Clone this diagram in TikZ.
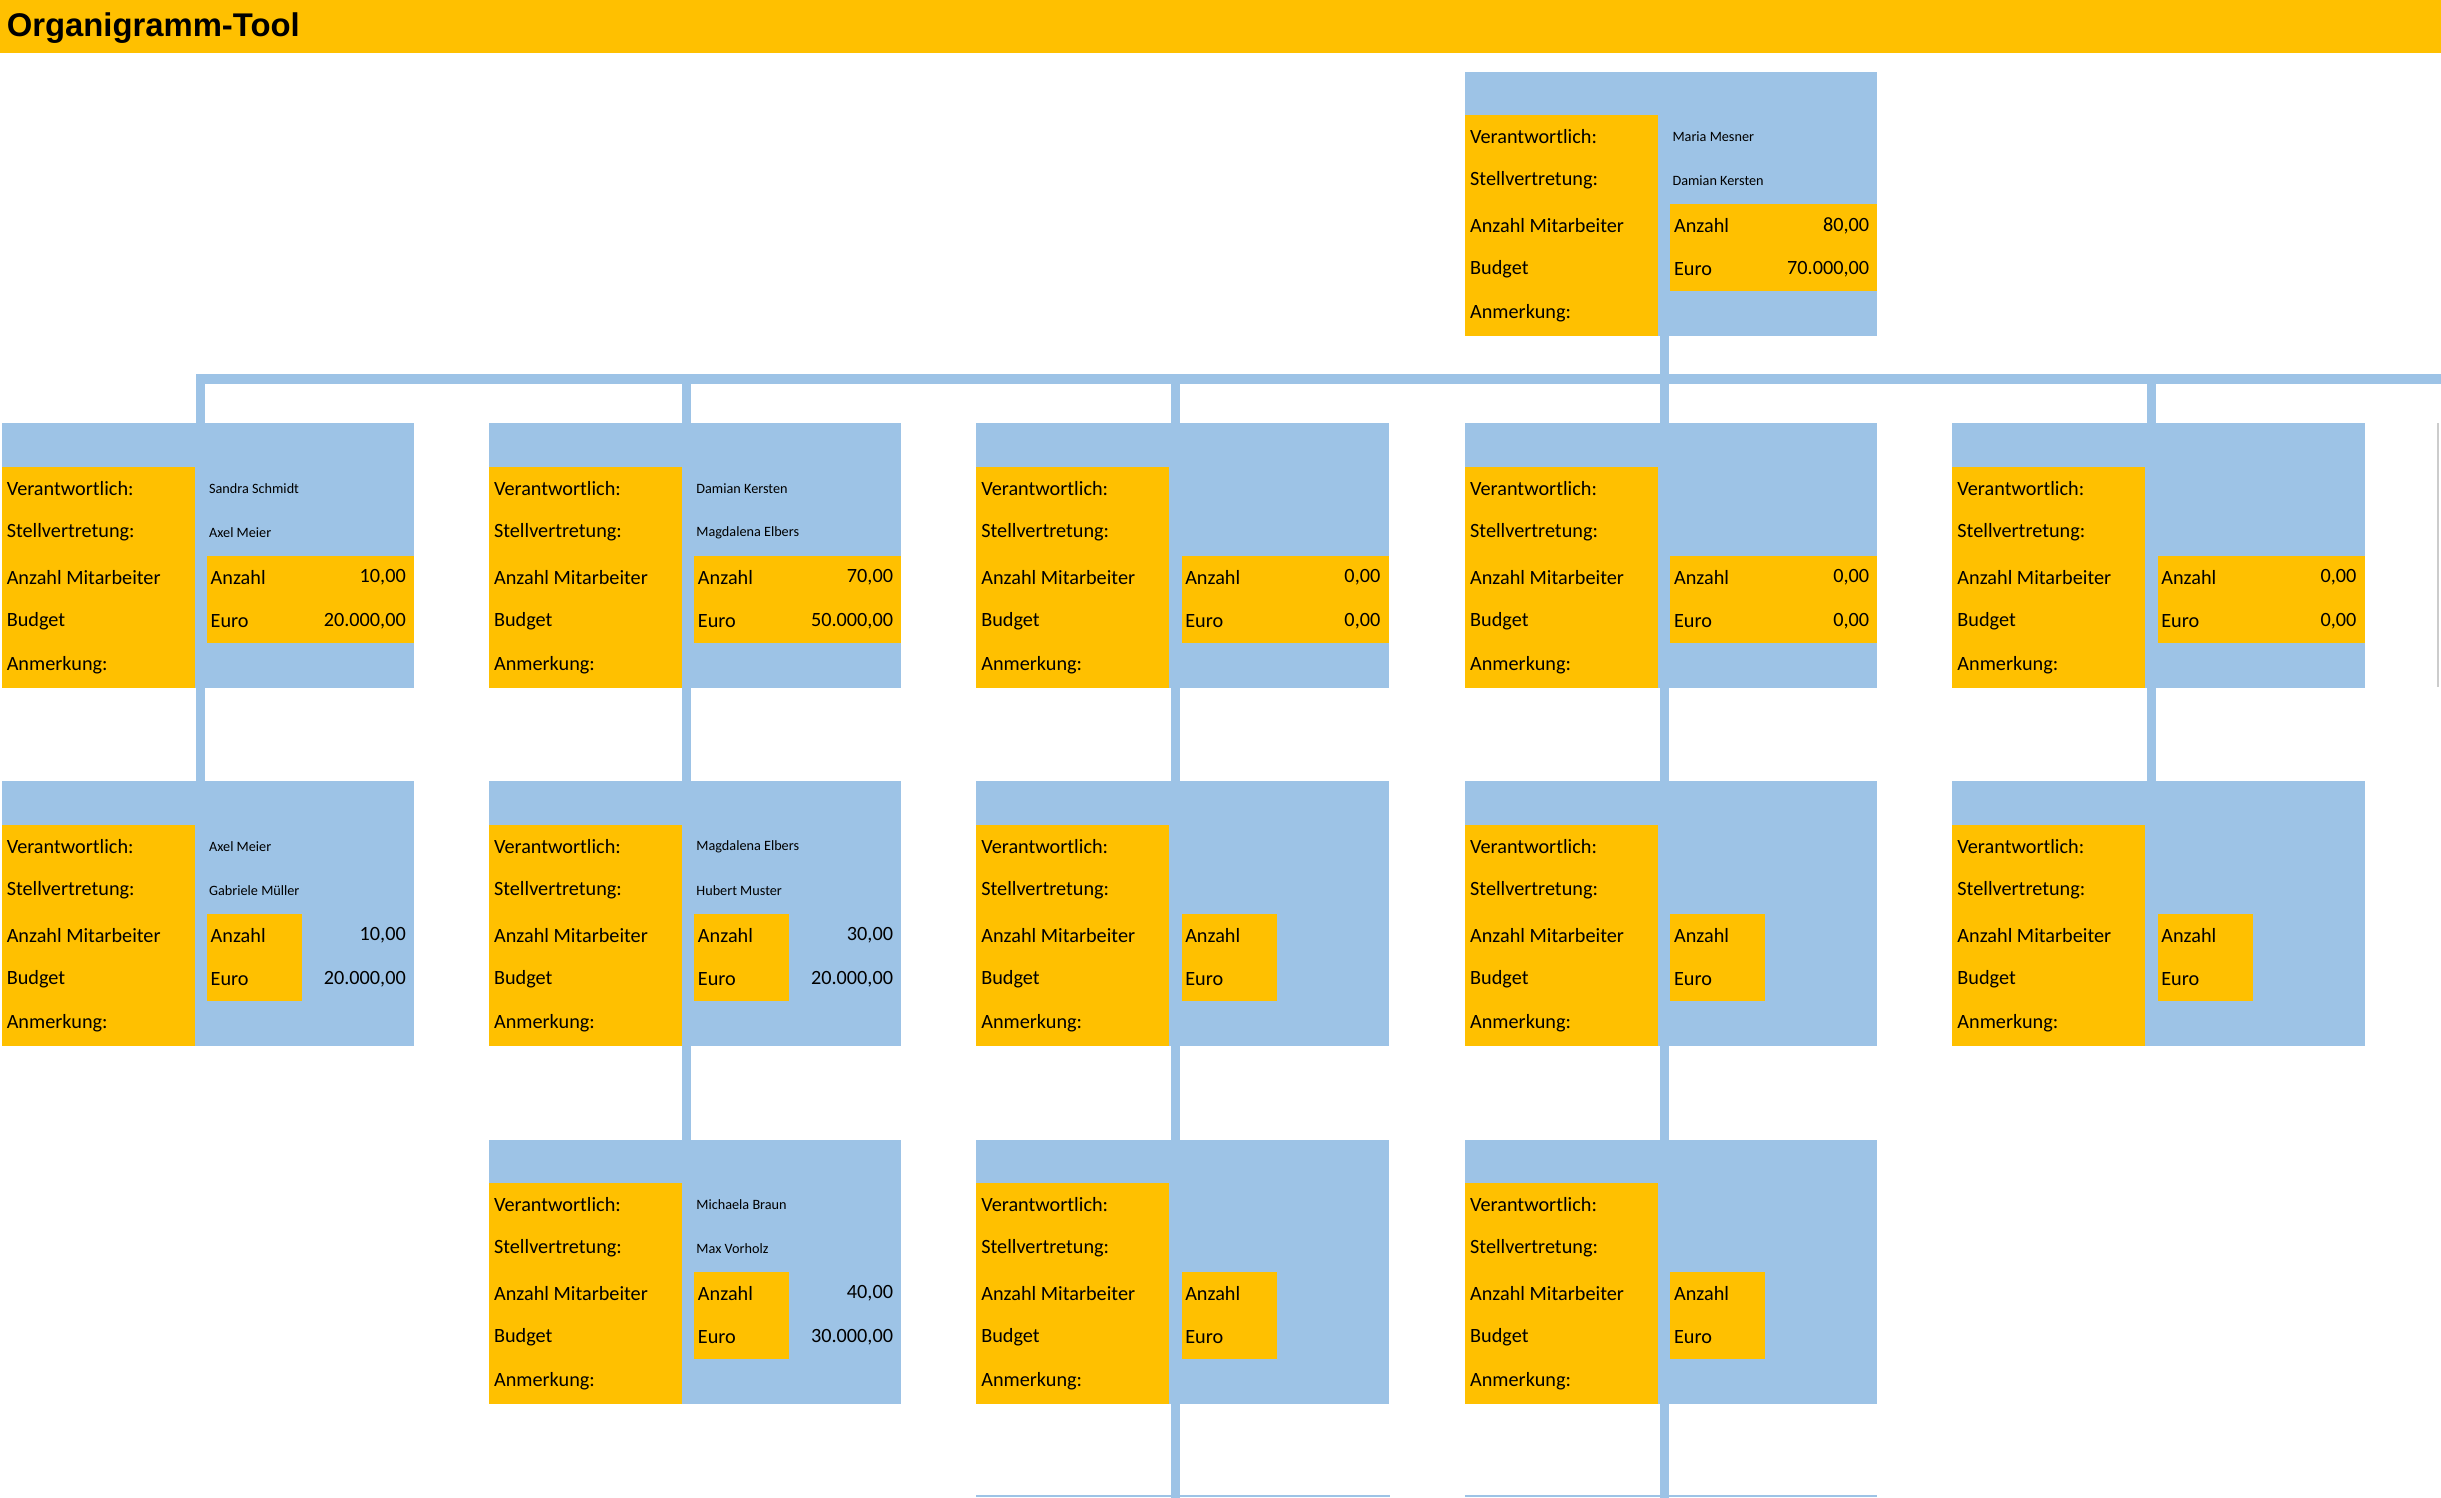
\documentclass[tikz,border=0pt]{standalone}
\usepackage{fontspec}
\setmainfont{Carlito}
\newfontfamily\titlefont{Liberation Sans}
\definecolor{og}{HTML}{FFC000}
\definecolor{bl}{HTML}{9DC3E6}
\tikzset{lbl/.style={anchor=west,inner sep=0,font=\fontsize{7.4pt}{8pt}\selectfont},
 nm/.style={anchor=west,inner sep=0,font=\fontsize{5.2pt}{6pt}\selectfont},
 val/.style={anchor=east,inner sep=0,font=\fontsize{7.4pt}{8pt}\selectfont},
 conn/.style={draw=bl,line width=0.12cm}}
% #1 name, #2 x, #3 y, #4 name1, #5 name2, #6 anzahl, #7 euro, #8 inner width
\newcommand\obox[8]{%
 \fill[bl] (#2,#3) rectangle ++(265,170);
 \coordinate (#1-top) at (#2+128,#3);
 \coordinate (#1-bot) at (#2+128,#3+170);
 \fill[og] (#2,#3+28) rectangle ++(124,142);
 \fill[og] (#2+132,#3+85) rectangle ++(#8,56);
 \node[lbl] at (#2+3,#3+42) {Verantwortlich:};
 \node[lbl] at (#2+3,#3+70) {Stellvertretung:};
 \node[lbl] at (#2+3,#3+99) {Anzahl Mitarbeiter};
 \node[lbl] at (#2+3,#3+127) {Budget};
 \node[lbl] at (#2+3,#3+155) {Anmerkung:};
 \node[nm] at (#2+133,#3+42) {#4};
 \node[nm] at (#2+133,#3+70) {#5};
 \node[lbl] at (#2+134,#3+99) {Anzahl};
 \node[lbl] at (#2+134,#3+127) {Euro};
 \node[val] at (#2+260,#3+99) {#6};
 \node[val] at (#2+260,#3+127) {#7};
}
\begin{document}
\begin{tikzpicture}[x=0.02cm,y=-0.02cm]
\useasboundingbox (0,0) rectangle (1568,962);
\fill[og] (0,0) rectangle (1568,34);
\node[anchor=west,inner sep=0,font=\titlefont\bfseries\fontsize{12pt}{14pt}\selectfont] (title) at (4,18) {Organigramm-Tool};
% connectors
\coordinate (hl) at (126,243.5);
\coordinate (hr) at (1568,243.5);
\draw[conn] (hl) -- (hr);
\foreach \x in {129,441,755,1382} \draw[conn] (\x,243.5) -- (\x,272);
\draw[conn] (1069,216) -- (1069,272);
\foreach \x in {129,441,755,1069,1382} \draw[conn] (\x,441) -- (\x,502);
\foreach \x in {441,755,1069} \draw[conn] (\x,671) -- (\x,732);
\foreach \x in {755,1069} \draw[conn] (\x,901) -- (\x,962);
\draw[bl,line width=0.03cm] (627,961) -- (893,961) (941,961) -- (1206,961);
\draw[gray!40,line width=0.03cm] (1566,272) -- (1566,441);
% boxes
\obox{top}{941}{46}{Maria Mesner}{Damian Kersten}{80,00}{70.000,00}{133}
\obox{a1}{1}{272}{Sandra Schmidt}{Axel Meier}{10,00}{20.000,00}{133}
\obox{a2}{314}{272}{Damian Kersten}{Magdalena Elbers}{70,00}{50.000,00}{133}
\obox{a3}{627}{272}{}{}{0,00}{0,00}{133}
\obox{a4}{941}{272}{}{}{0,00}{0,00}{133}
\obox{a5}{1254}{272}{}{}{0,00}{0,00}{133}
\obox{b1}{1}{502}{Axel Meier}{Gabriele Müller}{10,00}{20.000,00}{61}
\obox{b2}{314}{502}{Magdalena Elbers}{Hubert Muster}{30,00}{20.000,00}{61}
\obox{b3}{627}{502}{}{}{}{}{61}
\obox{b4}{941}{502}{}{}{}{}{61}
\obox{b5}{1254}{502}{}{}{}{}{61}
\obox{c2}{314}{732}{Michaela Braun}{Max Vorholz}{40,00}{30.000,00}{61}
\obox{c3}{627}{732}{}{}{}{}{61}
\obox{c4}{941}{732}{}{}{}{}{61}
\end{tikzpicture}
\end{document}
